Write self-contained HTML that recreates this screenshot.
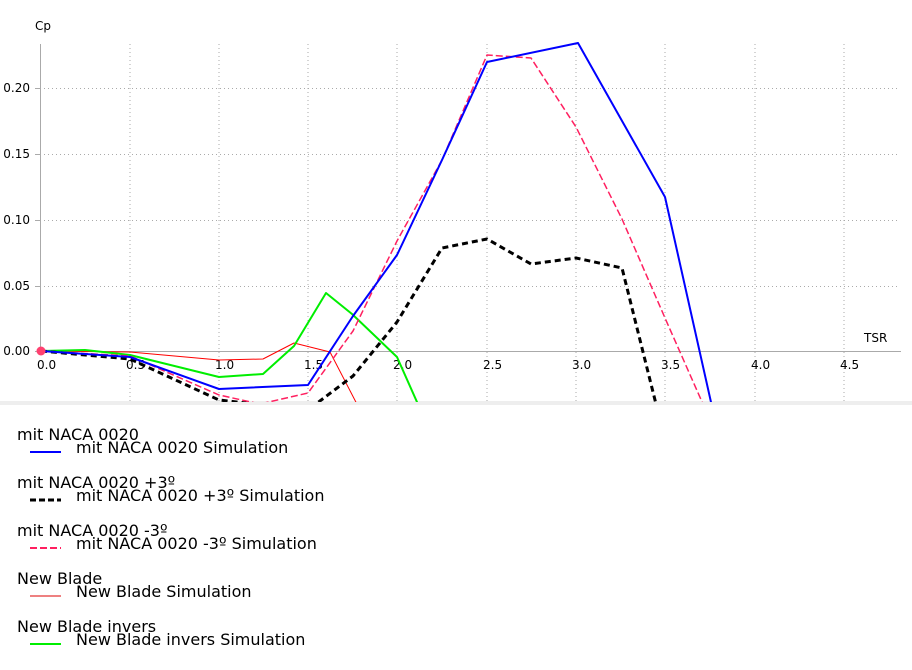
<!DOCTYPE html>
<html><head><meta charset="utf-8"><style>
body{margin:0;background:#fff;width:912px;height:670px;overflow:hidden;font-family:Tahoma,"DejaVu Sans","Liberation Sans",sans-serif}
.lg{position:absolute;font-size:16px;color:#000;white-space:nowrap}
</style></head><body>
<svg width="912" height="670" style="position:absolute;left:0;top:0" font-family="Tahoma,'DejaVu Sans','Liberation Sans',sans-serif">
<defs><clipPath id="c"><rect x="0" y="30" width="912" height="372"/></clipPath></defs>
<rect x="0" y="401" width="912" height="4" fill="#eeeeee"/>
<g stroke="#aaa" stroke-dasharray="1,3" stroke-width="1">
<line x1="40" y1="88.5" x2="900" y2="88.5"/><line x1="40" y1="154.5" x2="900" y2="154.5"/><line x1="40" y1="220.5" x2="900" y2="220.5"/><line x1="40" y1="286.5" x2="900" y2="286.5"/>
<line x1="130" y1="44" x2="130" y2="401"/><line x1="219" y1="44" x2="219" y2="401"/><line x1="308" y1="44" x2="308" y2="401"/><line x1="397" y1="44" x2="397" y2="401"/><line x1="487" y1="44" x2="487" y2="401"/><line x1="576" y1="44" x2="576" y2="401"/><line x1="665" y1="44" x2="665" y2="401"/><line x1="755" y1="44" x2="755" y2="401"/><line x1="844" y1="44" x2="844" y2="401"/>
</g>
<g stroke="#aaa" stroke-width="1">
<line x1="40.5" y1="44" x2="40.5" y2="351"/><line x1="35" y1="351.5" x2="901" y2="351.5"/>
<line x1="35" y1="88.5" x2="40" y2="88.5"/><line x1="35" y1="154.5" x2="40" y2="154.5"/><line x1="35" y1="220.5" x2="40" y2="220.5"/><line x1="35" y1="286.5" x2="40" y2="286.5"/>
</g>
<g font-size="12" fill="#000" text-anchor="end">
<text x="30" y="92">0.20</text><text x="30" y="158">0.15</text><text x="30" y="224">0.10</text><text x="30" y="290">0.05</text><text x="30" y="355">0.00</text>
</g>
<g font-size="12" fill="#000">
<text x="37" y="369">0.0</text><text x="126" y="369">0.5</text><text x="215" y="369">1.0</text><text x="304" y="369">1.5</text><text x="393" y="369">2.0</text><text x="483" y="369">2.5</text><text x="572" y="369">3.0</text><text x="661" y="369">3.5</text><text x="751" y="369">4.0</text><text x="840" y="369">4.5</text>
<text x="35" y="30">Cp</text><text x="864" y="342">TSR</text>
</g>
<g clip-path="url(#c)" fill="none" stroke-linejoin="round">
<polyline stroke="#ff0000" stroke-width="1" points="41,351 130,352 219,360 263,359 294,343 330,352 360,410"/>
<polyline stroke="#00ee00" stroke-width="2" points="41,351 85,350 130,355 219,377 263,374 294,346 326,293 352,314 397,357 425,420"/>
<polyline stroke="#000" stroke-width="3" stroke-dasharray="6,4" points="41,351 130,359 219,400 308,410 353,376 397,322 442,248 487,239 531,264 576,258 622,268 660,420"/>
<polyline stroke="#ff2060" stroke-width="1.5" stroke-dasharray="7,3" points="41,351 130,356 219,395 260,404 308,393 353,331 397,241 442,160 487,55 531,58 576,127 622,219 665,318 710,420"/>
<polyline stroke="#0000ff" stroke-width="2" points="41,351 130,357 219,389 308,385 353,316 397,255 442,160 487,62 578,43 665,197 715,420"/>
<circle cx="41" cy="351" r="4.5" fill="#ff4070" stroke="none"/>
</g>
<g stroke-width="2">
<line x1="30" y1="452" x2="61" y2="452" stroke="#0000ff"/>
<line x1="30" y1="500" x2="61" y2="500" stroke="#000" stroke-width="3" stroke-dasharray="6,3"/>
<line x1="30" y1="548" x2="61" y2="548" stroke="#ff2060" stroke-dasharray="7,3"/>
<line x1="30" y1="596" x2="61" y2="596" stroke="#dd0000" stroke-width="1"/>
<line x1="30" y1="644" x2="61" y2="644" stroke="#00ee00"/>
</g>
</svg>
<div class="lg" style="left:17px;top:425px">mit NACA 0020</div>
<div class="lg" style="left:76px;top:438px">mit NACA 0020 Simulation</div>
<div class="lg" style="left:17px;top:473px">mit NACA 0020 +3º</div>
<div class="lg" style="left:76px;top:486px">mit NACA 0020 +3º Simulation</div>
<div class="lg" style="left:17px;top:521px">mit NACA 0020 -3º</div>
<div class="lg" style="left:76px;top:534px">mit NACA 0020 -3º Simulation</div>
<div class="lg" style="left:17px;top:569px">New Blade</div>
<div class="lg" style="left:76px;top:582px">New Blade Simulation</div>
<div class="lg" style="left:17px;top:617px">New Blade invers</div>
<div class="lg" style="left:76px;top:630px">New Blade invers Simulation</div>
</body></html>
